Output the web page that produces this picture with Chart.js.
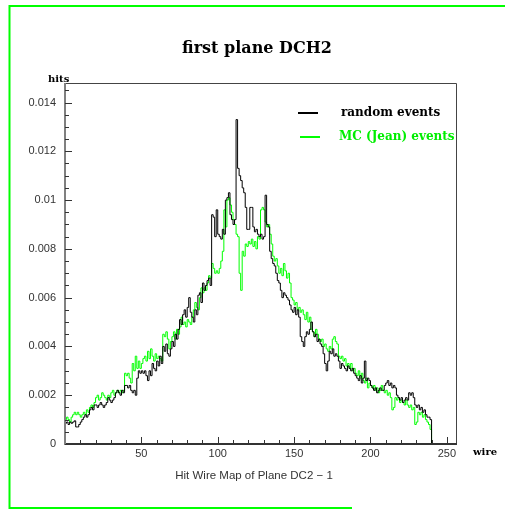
<!DOCTYPE html>
<html>
<head>
<meta charset="utf-8">
<script src="https://cdn.jsdelivr.net/npm/chart.js@4/dist/chart.umd.min.js"></script>
<style>
  html, body { margin: 0; padding: 0; background: #fff; }
  #wrap { position: relative; width: 505px; height: 514px; }
</style>
</head>
<body>
<div id="wrap"><canvas id="c" width="505" height="514"></canvas></div>
<script>
// Hit wire occupancy, first plane of DCH2, one bin per wire (wires 0..239)
const seriesNames = ['random events', 'MC (Jean) events'];
const xTickLabels = [50, 100, 150, 200, 250];
const yTickLabels = [0, 0.002, 0.004, 0.006, 0.008, 0.01, 0.012, 0.014];

const randomEvents = [
  .00085,.0009,.0008,.0009,.00085,.0009,.00095,.0007,.0007,.0008,
  .0009,.0010,.0011,.0012,.0011,.0012,.0014,.0015,.0014,.0016,
  .0016,.0015,.0016,.0017,.0016,.0015,.0016,.0017,.0019,.0018,
  .0017,.0018,.0019,.0021,.0022,.0021,.0020,.0022,.0021,.0024,
  .0024,.0023,.0024,.0022,.0021,.0022,.0020,.0027,.0030,.0029,
  .0030,.0029,.0030,.0028,.0026,.0030,.0028,.0033,.0031,.0030,
  .0034,.0032,.0036,.0033,.0040,.0038,.0041,.0037,.0036,.0039,
  .0042,.0040,.0045,.0043,.0047,.0051,.0049,.0053,.0055,.0052,
  .0056,.0060,.0054,.0052,.0050,.0055,.0053,.0061,.0062,.0058,
  .0066,.0063,.0065,.0067,.0068,.0065,.0094,.0093,.0085,.0096,
  .0086,.0085,.0084,.0088,.0086,.0100,.0101,.0103,.0094,.0092,
  .0090,.0092,.0133,.0113,.0110,.0108,.0105,.0103,.0097,.0088,
  .0088,.0097,.0097,.0089,.0087,.0088,.0086,.0085,.0086,.0084,
  .0085,.0102,.0090,.0089,.0079,.0076,.0074,.0073,.0070,.0067,
  .0066,.0063,.0060,.0062,.0061,.0060,.0059,.0057,.0055,.0054,
  .0056,.0053,.0055,.0052,.0044,.0042,.0040,.0044,.0046,.0045,
  .0047,.0050,.0046,.0044,.0045,.0042,.0043,.0041,.0040,.0037,
  .0033,.0030,.0034,.0038,.0037,.0039,.0036,.0037,.0036,.0034,
  .0031,.0033,.0032,.0031,.0030,.0032,.0031,.0030,.0031,.0029,
  .0028,.0027,.0026,.0028,.0025,.0027,.0034,.0026,.0027,.0026,
  .0024,.0023,.0022,.0023,.0021,.0022,.0023,.0022,.0022,.0024,
  .0025,.0026,.0024,.0025,.0023,.0024,.0023,.0020,.0019,.0018,
  .0019,.0017,.0018,.0019,.0018,.0021,.0020,.0021,.0019,.0016,
  .0015,.0016,.0014,.0015,.0013,.0014,.0012,.0011,.0011,.0010
];

const mcEvents = [
  .0010,.0011,.0010,.0009,.0011,.0012,.0013,.0012,.0013,.0012,
  .0011,.0012,.0013,.0012,.0014,.0013,.0015,.0016,.0015,.0017,
  .0019,.0020,.0018,.0019,.0021,.0020,.0019,.0018,.0020,.0019,
  .0021,.0022,.0020,.0021,.0022,.0021,.0022,.0021,.0022,.0029,
  .0028,.0029,.0027,.0025,.0033,.0030,.0036,.0031,.0034,.0031,
  .0033,.0035,.0036,.0034,.0038,.0035,.0039,.0036,.0034,.0037,
  .0035,.0036,.0035,.0034,.0045,.0044,.0046,.0043,.0039,.0042,
  .0044,.0046,.0043,.0047,.0045,.0048,.0052,.0049,.0050,.0048,
  .0051,.0050,.0049,.0052,.0055,.0058,.0056,.0055,.0060,.0064,
  .0062,.0064,.0063,.0066,.0069,.0068,.0074,.0072,.0070,.0071,
  .0070,.0072,.0075,.0079,.0096,.0089,.0100,.0101,.0098,.0095,
  .0092,.0090,.0086,.0085,.0070,.0063,.0079,.0077,.0082,.0081,
  .0083,.0082,.0084,.0081,.0083,.0080,.0085,.0084,.0096,.0097,
  .0096,.0091,.0089,.0090,.0086,.0082,.0077,.0075,.0076,.0073,
  .0070,.0072,.0069,.0074,.0071,.0068,.0070,.0066,.0060,.0059,
  .0057,.0058,.0055,.0056,.0054,.0055,.0053,.0051,.0054,.0050,
  .0052,.0047,.0046,.0044,.0047,.0045,.0043,.0042,.0043,.0040,
  .0041,.0039,.0038,.0040,.0039,.0043,.0044,.0042,.0041,.0036,
  .0035,.0036,.0034,.0035,.0032,.0033,.0031,.0033,.0030,.0031,
  .0029,.0028,.0030,.0027,.0029,.0026,.0025,.0027,.0023,.0025,
  .0024,.0023,.0024,.0022,.0023,.0021,.0022,.0024,.0022,.0021,
  .0022,.0020,.0021,.0019,.0014,.0015,.0019,.0018,.0019,.0017,
  .0018,.0017,.0016,.0018,.0016,.0015,.0016,.0014,.0015,.0008,
  .0009,.0013,.0012,.0013,.0011,.0012,.0010,.0009,.0008,.0006
];

// Histogram outline: rise from zero at the first edge, one step per wire,
// and fall back to zero at the last edge.
function histPoints(values) {
  const pts = [{ x: 0, y: 0 }];
  values.forEach((v, i) => pts.push({ x: i, y: v }));
  pts.push({ x: values.length, y: 0 });
  return pts;
}

const serif = '"DejaVu Serif", "Liberation Serif", serif';
const sans = '"Liberation Sans", Arial, sans-serif';

const isMajorY = v => Math.round(v * 10000) % 20 === 0;
const isMajorX = v => Math.round(v) % 50 === 0;

// Page frame, plot frame, inward tick marks, titles and legend.
const decorations = {
  id: 'decorations',
  beforeDraw(chart) {
    const ctx = chart.ctx;
    ctx.save();
    ctx.strokeStyle = '#00ff00';
    ctx.lineWidth = 2;
    ctx.beginPath();
    ctx.moveTo(505, 6); ctx.lineTo(9.5, 6); ctx.lineTo(9.5, 508); ctx.lineTo(352, 508);
    ctx.stroke();
    ctx.restore();
  },
  afterDraw(chart) {
    const ctx = chart.ctx;
    const a = chart.chartArea;
    const xs = chart.scales.x, ys = chart.scales.y;
    ctx.save();
    // frame
    ctx.strokeStyle = '#444';
    ctx.lineWidth = 1;
    ctx.beginPath();
    ctx.moveTo(a.left, a.top + 0.5); ctx.lineTo(a.right + 0.5, a.top + 0.5);
    ctx.lineTo(a.right + 0.5, a.bottom);
    ctx.stroke();
    ctx.lineWidth = 2;
    ctx.strokeStyle = '#333';
    ctx.beginPath();
    ctx.moveTo(a.left, a.bottom); ctx.lineTo(a.right + 1, a.bottom);
    ctx.stroke();
    ctx.strokeStyle = '#808080';
    ctx.beginPath();
    ctx.moveTo(a.left, a.top); ctx.lineTo(a.left, a.bottom + 1);
    ctx.stroke();
    // inward ticks
    ctx.lineWidth = 1;
    ctx.strokeStyle = '#333';
    ctx.beginPath();
    ys.ticks.forEach(t => {
      const py = Math.round(ys.getPixelForValue(t.value)) + 0.5;
      const len = isMajorY(t.value) ? 7 : 4;
      ctx.moveTo(a.left, py); ctx.lineTo(a.left + len, py);
    });
    xs.ticks.forEach(t => {
      if (t.value <= 0) return;
      const px = Math.round(xs.getPixelForValue(t.value)) + 0.5;
      const len = isMajorX(t.value) ? 7 : 4;
      ctx.moveTo(px, a.bottom); ctx.lineTo(px, a.bottom - len);
    });
    ctx.stroke();

    // texts
    ctx.fillStyle = '#000';
    ctx.textBaseline = 'alphabetic';
    ctx.textAlign = 'center';
    ctx.font = 'bold 16px ' + serif;
    ctx.fillText('first plane DCH2', 257, 53);
    ctx.font = 'bold 10px ' + serif;
    ctx.textAlign = 'left';
    ctx.fillText('hits', 48, 82);
    ctx.fillText('wire', 473, 455);
    ctx.fillStyle = '#333';
    ctx.font = '11.5px ' + sans;
    ctx.textAlign = 'center';
    ctx.fillText('Hit Wire Map of Plane DC2 \u2212 1', 254, 479);

    // legend
    const ds = chart.data.datasets;
    const rows = [{ y: 113, x0: 298, x1: 318, tx: 341 }, { y: 137, x0: 300, x1: 320, tx: 339 }];
    ctx.font = 'bold 12px ' + serif;
    ctx.textAlign = 'left';
    ctx.textBaseline = 'middle';
    ds.forEach((d, i) => {
      const r = rows[i];
      ctx.strokeStyle = d.borderColor;
      ctx.lineWidth = 2;
      ctx.beginPath();
      ctx.moveTo(r.x0, r.y); ctx.lineTo(r.x1, r.y);
      ctx.stroke();
      ctx.fillStyle = i === 0 ? '#000' : '#00ee00';
      ctx.fillText(d.label, r.tx, r.y);
    });
    ctx.restore();
  }
};

new Chart(document.getElementById('c'), {
  type: 'line',
  data: {
    datasets: [
      { label: seriesNames[0], data: histPoints(randomEvents), borderColor: '#000000',
        borderWidth: 1, stepped: 'before', pointRadius: 0, fill: false, order: 1 },
      { label: seriesNames[1], data: histPoints(mcEvents), borderColor: '#00ff00',
        borderWidth: 1, stepped: 'before', pointRadius: 0, fill: false, order: 2 }
    ]
  },
  options: {
    responsive: false,
    animation: false,
    parsing: false,
    layout: { padding: { left: 10, right: 49, top: 83, bottom: 50 } },
    plugins: { legend: { display: false }, tooltip: { enabled: false }, title: { display: false } },
    scales: {
      x: {
        type: 'linear', min: 0, max: 256,
        grid: { display: false, drawTicks: false },
        border: { display: false },
        afterFit: s => { s.height = 20; },
        ticks: {
          stepSize: 10, autoSkip: false, maxRotation: 0, includeBounds: false, padding: 3,
          color: '#333', font: { family: sans, size: 11 },
          callback: v => (xTickLabels.includes(Math.round(v)) ? String(Math.round(v)) : '')
        }
      },
      y: {
        type: 'linear', min: 0, max: 0.0148,
        grid: { display: false, drawTicks: false },
        border: { display: false },
        afterFit: s => { s.width = 55; },
        ticks: {
          stepSize: 0.0005, autoSkip: false, maxTicksLimit: 100, includeBounds: false, padding: 9,
          color: '#333', font: { family: sans, size: 11 },
          callback: v => {
            const r = Math.round(v * 10000) / 10000;
            return yTickLabels.some(t => Math.abs(t - r) < 1e-9) ? String(r) : '';
          }
        }
      }
    }
  },
  plugins: [decorations]
});
</script>
</body>
</html>
